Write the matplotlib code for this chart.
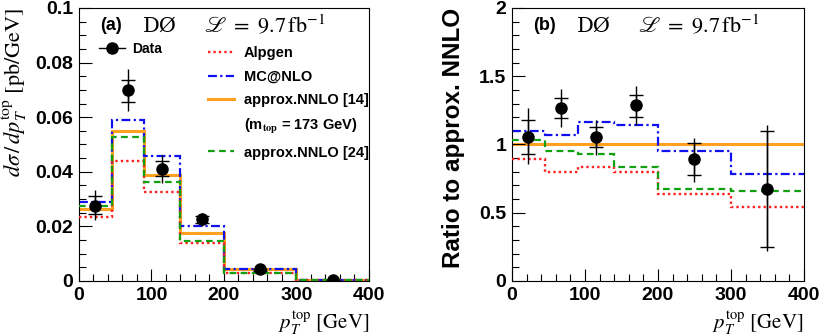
import numpy as np
import matplotlib
matplotlib.use("Agg")
import matplotlib.pyplot as plt
from matplotlib.lines import Line2D
from matplotlib.ticker import MultipleLocator

plt.rcParams['font.family'] = ['Liberation Sans', 'DejaVu Sans']
plt.rcParams['mathtext.fontset'] = 'stix'

# bins in pT(top) [GeV]
edges = [0, 45, 90, 140, 200, 300, 400]
centers = [22.5, 67.5, 115, 170, 250, 350]

# (a) cross section [pb/GeV]
data_xs = [0.0276, 0.0698, 0.0411, 0.0227, 0.0043, 0.0004]
data_tot_hi = [0.0334, 0.0775, 0.0460, 0.0250, 0.0047, 0.0005]
data_tot_lo = [0.0225, 0.0623, 0.0360, 0.0200, 0.0033, 0.0001]
data_sta_hi = [0.0310, 0.0738, 0.0439, 0.0238, 0.0045, 0.0005]
data_sta_lo = [0.0244, 0.0657, 0.0384, 0.0211, 0.0035, 0.0001]
alpgen_xs = [0.0236, 0.0440, 0.0325, 0.0141, 0.0028, 0.0002]
mcnlo_xs = [0.0289, 0.0588, 0.0458, 0.0203, 0.0045, 0.0004]
nnlo14_xs = [0.0263, 0.0551, 0.0390, 0.0175, 0.0045, 0.0005]
nnlo24_xs = [0.0275, 0.0526, 0.0364, 0.0148, 0.0031, 0.0003]

# (b) ratio to approx. NNLO [14]
data_r = [1.054, 1.267, 1.054, 1.286, 0.892, 0.675]
data_r_tot_hi = [1.27, 1.406, 1.18, 1.43, 1.05, 1.14]
data_r_tot_lo = [0.856, 1.13, 0.924, 1.144, 0.728, 0.22]
data_r_sta_hi = [1.18, 1.34, 1.125, 1.36, 1.01, 1.10]
data_r_sta_lo = [0.927, 1.193, 0.985, 1.205, 0.773, 0.247]
alpgen_r = [0.892, 0.795, 0.834, 0.797, 0.638, 0.54]
mcnlo_r = [1.10, 1.07, 1.166, 1.14, 0.956, 0.785]
nnlo14_r = [1.0, 1.0, 1.0, 1.0, 1.0, 1.0]
nnlo24_r = [1.034, 0.949, 0.93, 0.834, 0.675, 0.658]

xticks = [0, 100, 200, 300, 400]
yticks_a = [0, 0.02, 0.04, 0.06, 0.08, 0.1]
ylabels_a = ['0', '0.02', '0.04', '0.06', '0.08', '0.1']
yticks_b = [0, 0.5, 1, 1.5, 2]
ylabels_b = ['0', '0.5', '1', '1.5', '2']

styles = {
    'alpgen': dict(color='#ff2020', ls=(0, (1, 1.3)), lw=1.7),
    'mcnlo': dict(color='#1010ee', ls=(0, (4, 1.5, 1, 1.5)), lw=1.6),
    'nnlo14': dict(color='#ffa020', ls='-', lw=2.2),
    'nnlo24': dict(color='#10a010', ls=(0, (3, 2)), lw=1.6),
}

fig = plt.figure(figsize=(8.2, 3.36), dpi=100)
ax1 = fig.add_axes([0.0963, 0.1637, 0.3537, 0.8125])
ax2 = fig.add_axes([0.6244, 0.1637, 0.356, 0.8125])


def draw_data(ax, y, thi, tlo, shi, slo):
    y = np.array(y)
    ax.errorbar(centers, y, yerr=[y - np.array(tlo), np.array(thi) - y],
                fmt='none', ecolor='black', elinewidth=1.0, capsize=0, zorder=5)
    ax.errorbar(centers, y, yerr=[y - np.array(slo), np.array(shi) - y],
                fmt='o', color='black', ms=8, ecolor='black', elinewidth=1.0,
                capsize=5, capthick=1.0, zorder=6)


def draw_models(ax, a, m, n14, n24):
    ax.stairs(a, edges, baseline=None, **styles['alpgen'], zorder=3)
    ax.stairs(m, edges, baseline=None, **styles['mcnlo'], zorder=2)
    ax.stairs(n14, edges, baseline=None, **styles['nnlo14'], zorder=1)
    ax.stairs(n24, edges, baseline=None, **styles['nnlo24'], zorder=4)


def style_axes(ax, yticks, ylabels, ymax, yminor):
    ax.set_xlim(0, 400)
    ax.set_ylim(0, ymax)
    ax.set_xticks(xticks)
    ax.set_xticklabels([str(t) for t in xticks])
    ax.set_yticks(yticks)
    ax.set_yticklabels(ylabels)
    ax.xaxis.set_minor_locator(MultipleLocator(20))
    ax.yaxis.set_minor_locator(MultipleLocator(yminor))
    ax.tick_params(which='both', direction='in', top=False, right=False,
                   labelsize=14, pad=4)
    ax.tick_params(which='major', length=9, width=0.8)
    ax.tick_params(which='minor', length=5, width=0.8)
    for lab in ax.get_xticklabels() + ax.get_yticklabels():
        lab.set_fontweight('bold')
    for s in ax.spines.values():
        s.set_linewidth(0.8)
    ax.set_xlabel(r'$p_T^{\mathrm{top}}\ [\mathrm{GeV}]$', loc='right',
                  fontsize=15, labelpad=4)


def header(ax, tag):
    ax.text(0.072, 0.935, tag, transform=ax.transAxes, fontsize=13,
            fontweight='bold', va='center')
    ax.text(0.221, 0.935, 'D\u00d8', transform=ax.transAxes, fontsize=15,
            family='DejaVu Serif', va='center')
    ax.text(0.431, 0.935, r'$\mathscr{L}\ =\ 9.7\,\mathrm{fb}^{-1}$',
            transform=ax.transAxes, fontsize=16, va='center')


# ---- panel (a)
draw_models(ax1, alpgen_xs, mcnlo_xs, nnlo14_xs, nnlo24_xs)
draw_data(ax1, data_xs, data_tot_hi, data_tot_lo, data_sta_hi, data_sta_lo)
style_axes(ax1, yticks_a, ylabels_a, 0.1, 0.005)
ax1.set_ylabel(r'$d\sigma\,/\,dp_T^{\mathrm{top}}\ [\mathrm{pb/GeV}]$',
               loc='top', fontsize=16, labelpad=5)
header(ax1, '(a)')

h_data = Line2D([], [], color='black', marker='o', ms=8, lw=1.0)
leg1 = ax1.legend([h_data], ['Data'], loc='upper left',
                  bbox_to_anchor=(0.05, 0.895), frameon=False,
                  handlelength=1.9, handletextpad=0.5, borderaxespad=0,
                  prop=dict(size=10, weight='bold'))
ax1.add_artist(leg1)
h_models = [Line2D([], [], **styles['alpgen']),
            Line2D([], [], **styles['mcnlo']),
            Line2D([], [], **styles['nnlo14']),
            Line2D([], [], lw=0),
            Line2D([], [], **styles['nnlo24'])]
l_models = ['Alpgen', 'MC@NLO', 'approx.NNLO [14]',
            r'(m$_{\mathbf{top}}$ = 173 GeV)', 'approx.NNLO [24]']
ax1.legend(h_models, l_models, loc='upper left',
           bbox_to_anchor=(0.425, 0.882), frameon=False,
           handlelength=1.75, handletextpad=0.7, borderaxespad=0,
           labelspacing=0.66, prop=dict(size=10.5, weight='bold'))

# ---- panel (b)
draw_models(ax2, alpgen_r, mcnlo_r, nnlo14_r, nnlo24_r)
draw_data(ax2, data_r, data_r_tot_hi, data_r_tot_lo, data_r_sta_hi, data_r_sta_lo)
style_axes(ax2, yticks_b, ylabels_b, 2, 0.1)
ax2.set_ylabel('Ratio to approx. NNLO', loc='top', fontsize=17.5,
               fontweight='bold', labelpad=10)
header(ax2, '(b)')

fig.savefig('out.png', dpi=100)
